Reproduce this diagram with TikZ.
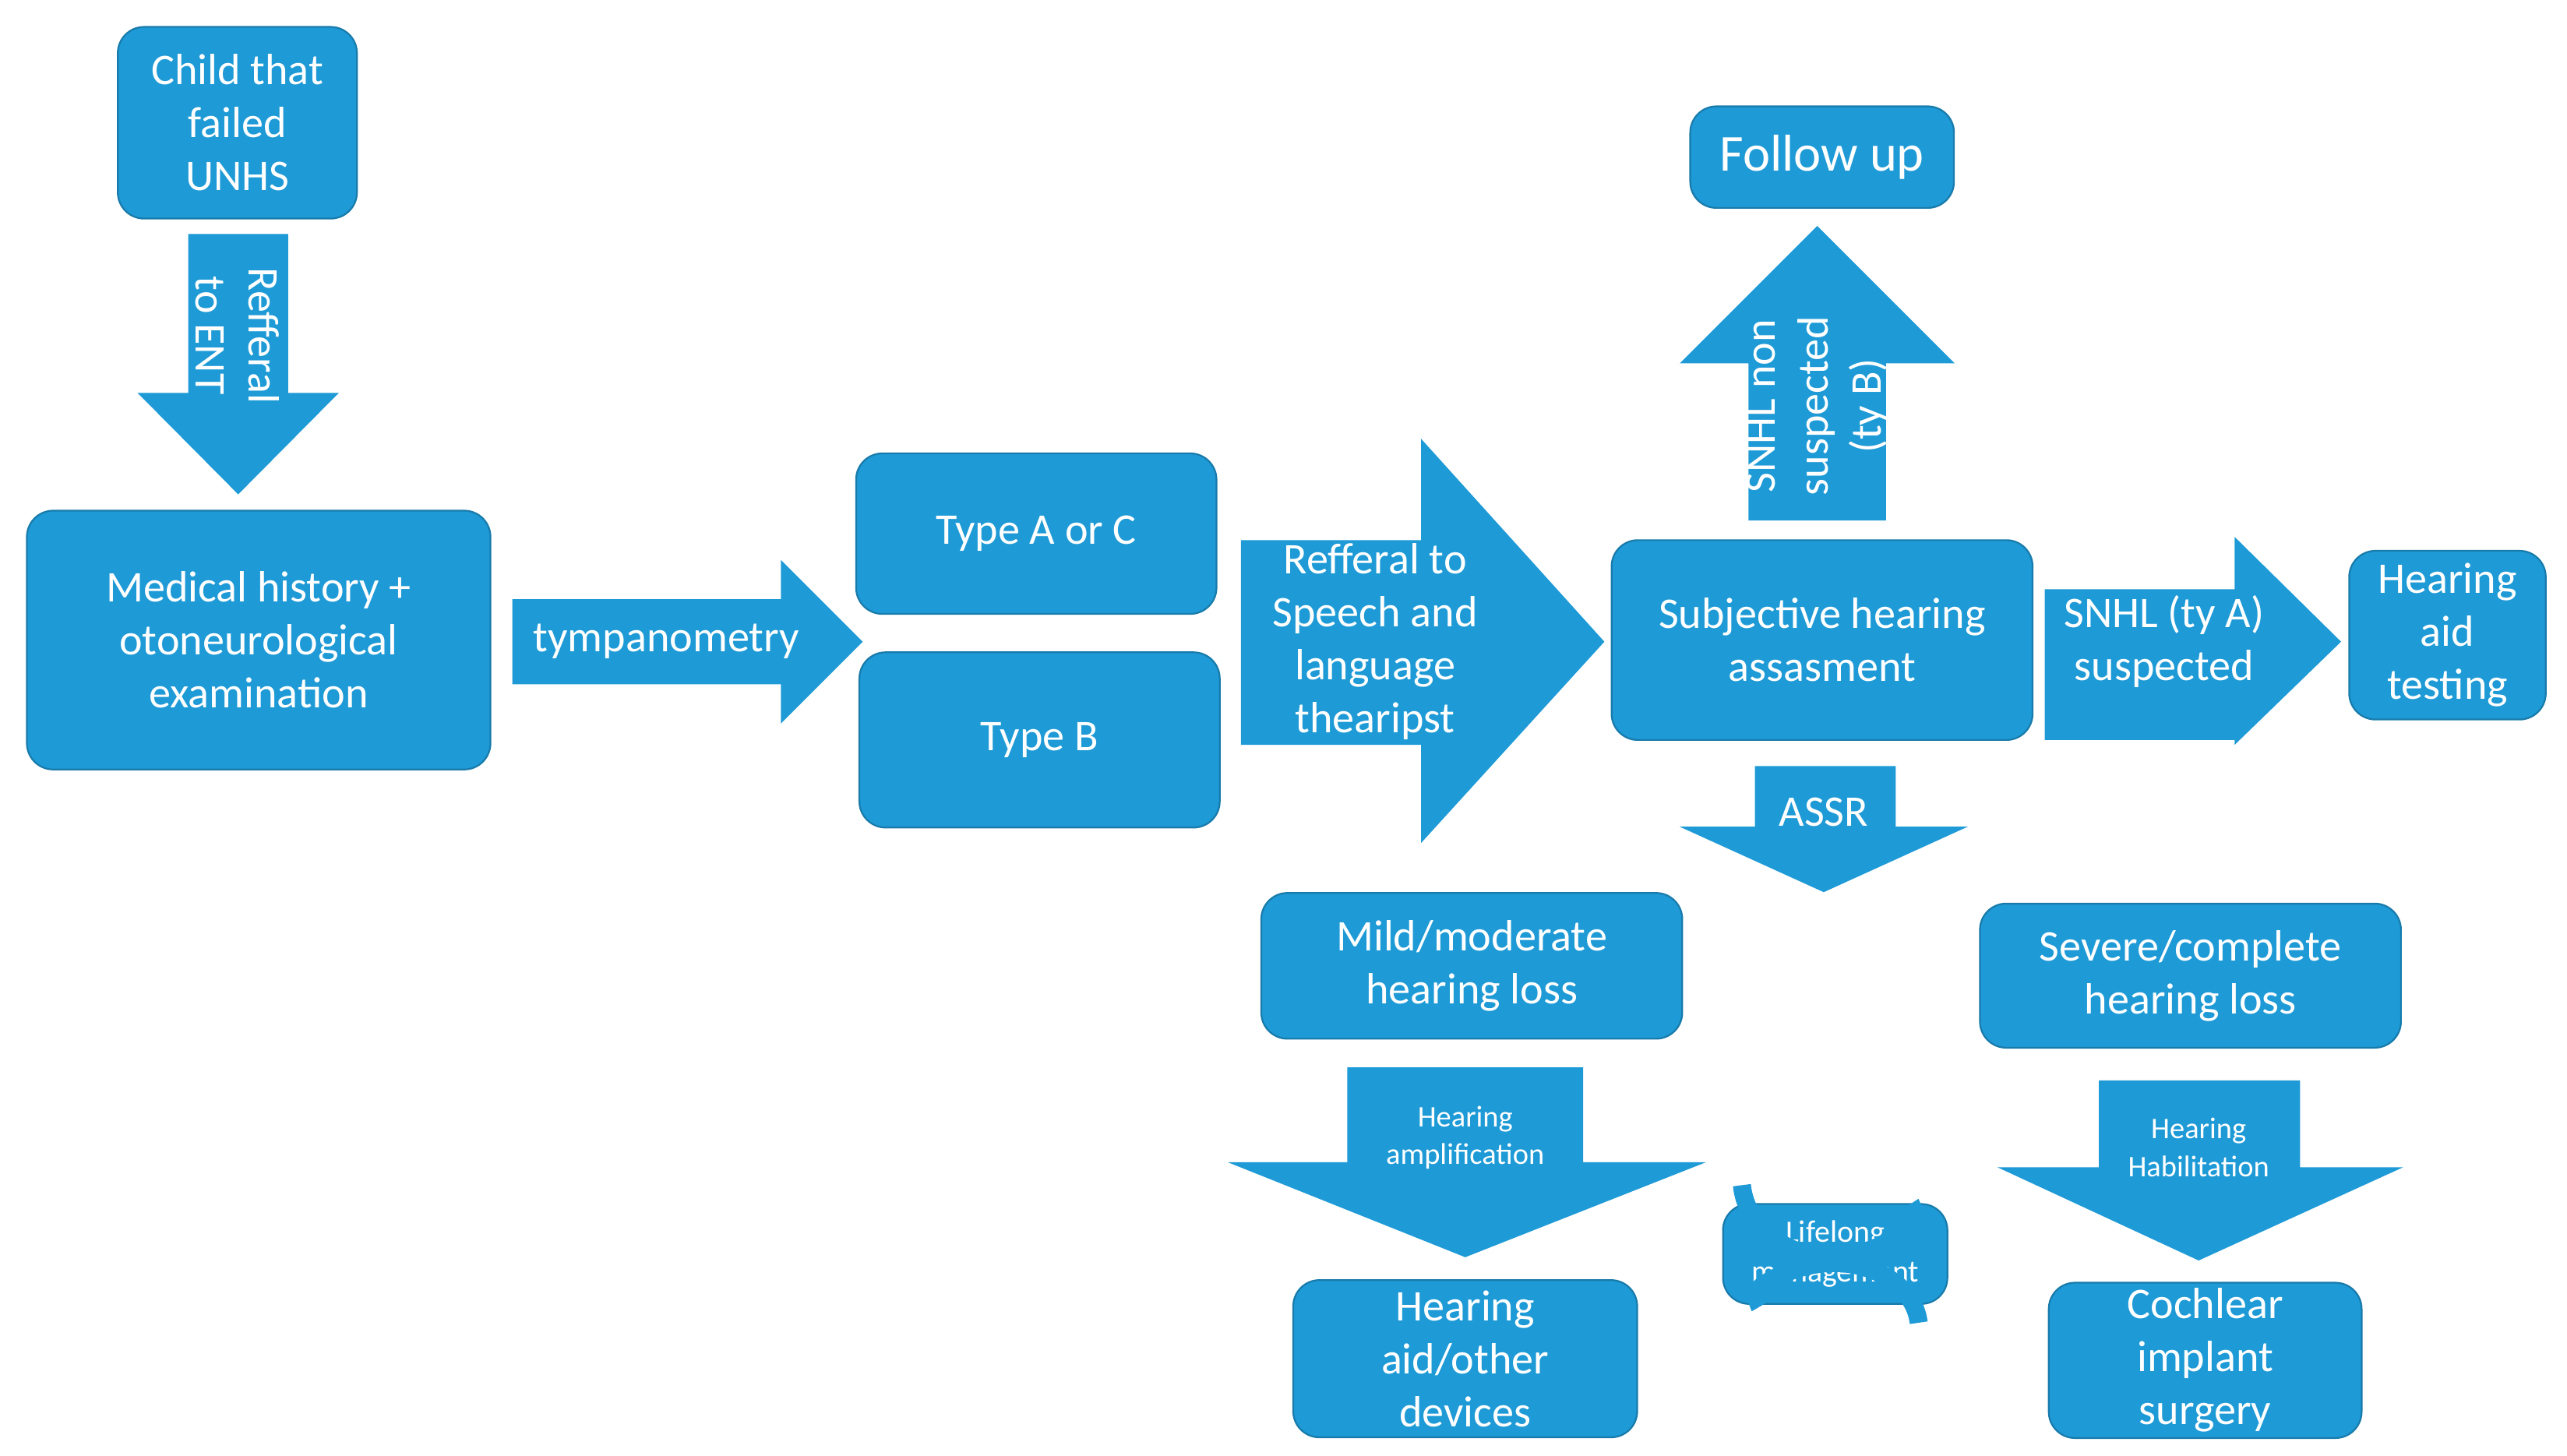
\documentclass[tikz,border=0pt]{standalone}
\usepackage{fontspec}
\setmainfont{Carlito}
\usetikzlibrary{arrows.meta}
\definecolor{bl}{HTML}{1E9AD6}
\begin{document}
\begin{tikzpicture}[x=0.01cm,y=-0.01cm,
 box/.style={fill=bl,draw=bl!80!black,line width=0.3pt,rounded corners=0.16cm,text=white,align=center,font=\fontsize{7.6}{9.2}\selectfont,inner sep=1pt},
 ar/.style={fill=bl},
 lab/.style={text=white,align=center,font=\fontsize{7.6}{9.2}\selectfont,inner sep=0pt},
 sm/.style={text=white,align=center,font=\fontsize{5.2}{6.6}\selectfont,inner sep=0pt}]
\useasboundingbox (0,0) rectangle (1568,889);
% arrows
\fill[ar] (115,143)--(176,143)--(176,240)--(207,240)--(145.5,302)--(84,240)--(115,240)--cycle;
\node[lab,rotate=-90] (l1) at (145,205) {Refferal\\to ENT};
\fill[ar] (313,366)--(477,366)--(477,342)--(527,392)--(477,442)--(477,418)--(313,418)--cycle;
\node[lab] (l2) at (407,392) {tympanometry};
\fill[ar] (758,330)--(868,330)--(868,268)--(980,392)--(868,515)--(868,455)--(758,455)--cycle;
\node[lab] (l3) at (840,392) {Refferal to\\Speech and\\language\\thearipst};
\fill[ar] (1068,318)--(1068,222)--(1026,222)--(1110,138)--(1194,222)--(1152,222)--(1152,318)--cycle;
\node[lab,rotate=90] (l4) at (1110,248) {SNHL non\\suspected\\(ty B)};
\fill[ar] (1249,360)--(1365,360)--(1365,328)--(1430,392)--(1365,455)--(1365,452)--(1249,452)--cycle;
\node[lab] (l5) at (1322,392) {SNHL (ty A)\\suspected};
\fill[ar] (1072,468)--(1158,468)--(1158,505)--(1202,505)--(1114,545)--(1026,505)--(1072,505)--cycle;
\node[lab] (l6) at (1114,496) {ASSR};
\fill[ar] (823,652)--(967,652)--(967,710)--(1042,710)--(895,768)--(750,710)--(823,710)--cycle;
\node[sm] (l7) at (895,695) {Hearing\\amplification};
\fill[ar] (1282,660)--(1405,660)--(1405,713)--(1468,713)--(1343,770)--(1220,713)--(1282,713)--cycle;
\node[sm] (l8) at (1343,701) {Hearing\\Habilitation};
% boxes
\node[box,minimum width=1.46cm,minimum height=1.17cm] (child) at (145,75) {Child that\\failed\\UNHS};
\node[box,minimum width=2.83cm,minimum height=1.58cm] (med) at (158,391) {Medical history +\\otoneurological\\examination};
\node[box,minimum width=2.2cm,minimum height=0.98cm] (ta) at (633,326) {Type A or C};
\node[box,minimum width=2.2cm,minimum height=1.07cm] (tb) at (635,452) {Type B};
\node[box,minimum width=2.57cm,minimum height=1.22cm] (subj) at (1113,391) {Subjective hearing\\assasment};
\node[box,minimum width=1.61cm,minimum height=0.62cm] (fu) at (1113,96) {\fontsize{9}{10}\selectfont Follow up};
\node[box,minimum width=1.2cm,minimum height=1.03cm] (hat) at (1495,388) {Hearing\\aid\\testing};
\node[box,minimum width=2.57cm,minimum height=0.89cm] (mild) at (899,590) {Mild/moderate\\hearing loss};
\node[box,minimum width=2.57cm,minimum height=0.88cm] (sev) at (1338,596) {Severe/complete\\hearing loss};
\node[box,minimum width=2.1cm,minimum height=0.96cm] (had) at (895,830) {Hearing\\aid/other\\devices};
\node[box,minimum width=1.91cm,minimum height=0.88cm] (ci) at (1347,831) {Cochlear\\implant\\surgery};
\node[box,minimum width=1.37cm,minimum height=0.61cm,font=\fontsize{5.4}{7}\selectfont] (life) at (1121,766) {Lifelong\\management};
% circular arrows
\draw[bl,line width=0.11cm,-{Triangle[length=0.16cm,width=0.26cm]}] (1064,724) arc[start angle=175,end angle=15,x radius=55,y radius=48];
\draw[bl,line width=0.11cm,-{Triangle[length=0.16cm,width=0.26cm]}] (1172,808) arc[start angle=-5,end angle=-165,x radius=52,y radius=40];
\end{tikzpicture}
\end{document}
